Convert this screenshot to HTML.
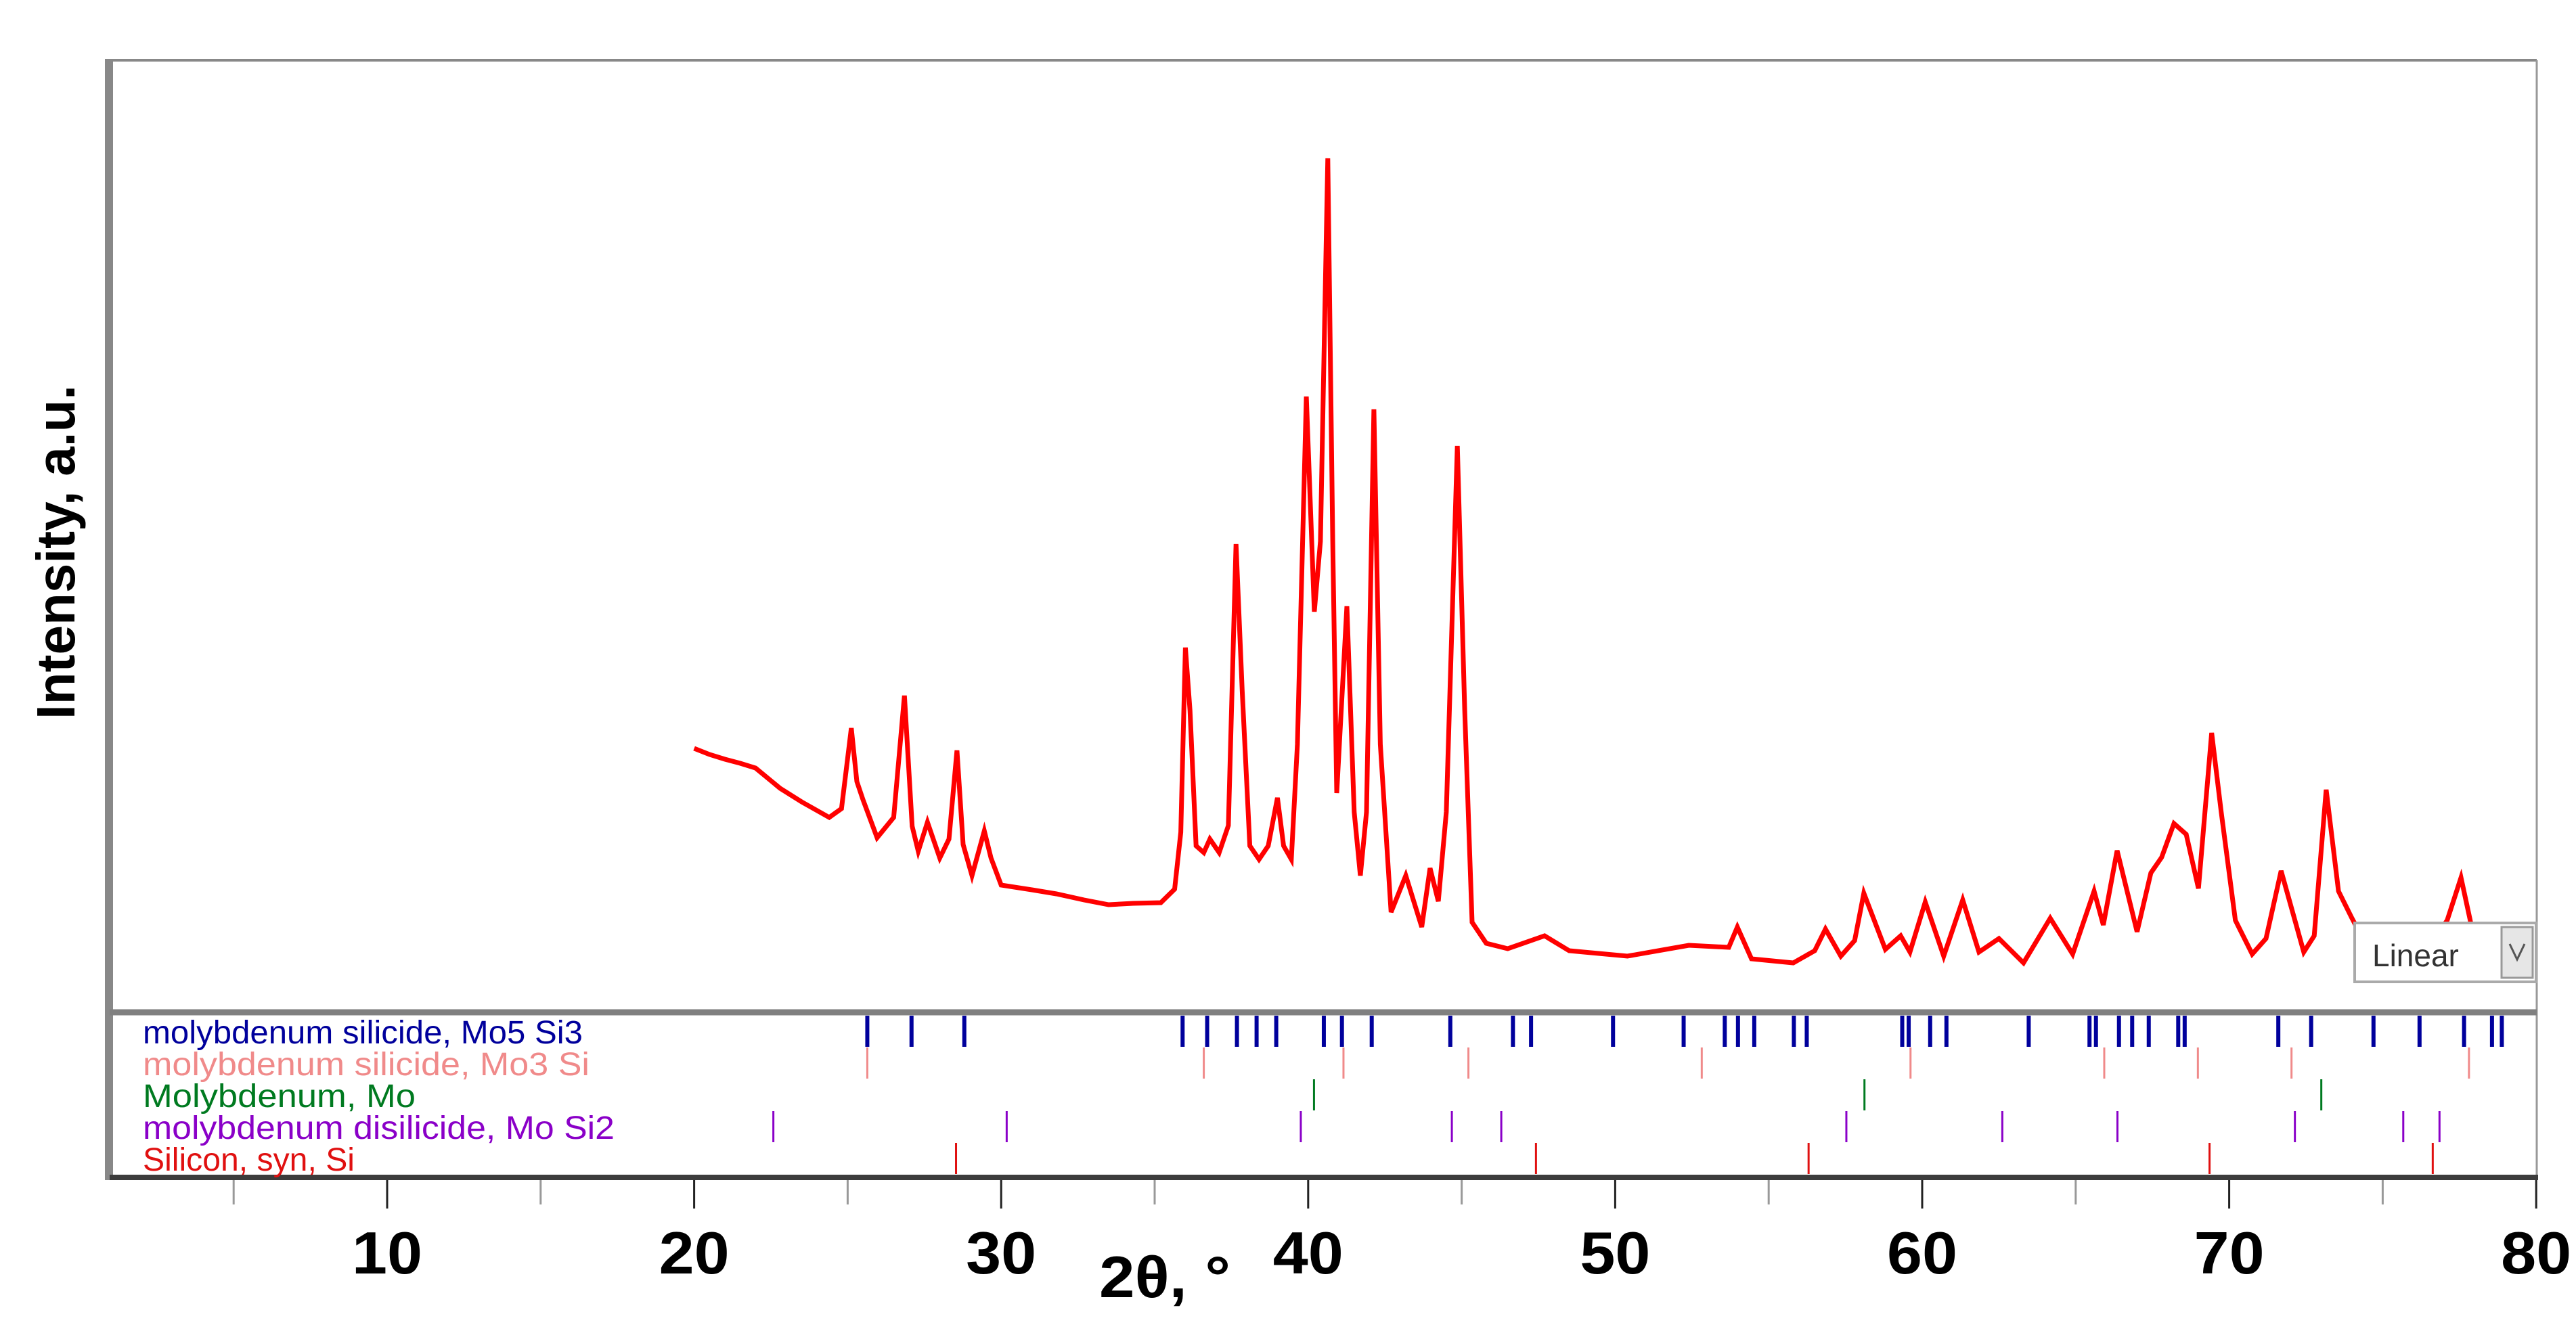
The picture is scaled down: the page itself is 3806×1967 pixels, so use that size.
<!DOCTYPE html>
<html><head><meta charset="utf-8"><style>
html,body{margin:0;padding:0;background:#fff;}
svg{display:block;}
text{font-family:"Liberation Sans",sans-serif;}
</style></head><body>
<svg id="chart" width="3806" height="1967" viewBox="0 0 3806 1967" xmlns="http://www.w3.org/2000/svg">
<rect x="0" y="0" width="3806" height="1967" fill="#fff"/>
<g id="frame">
<line x1="162" y1="89" x2="3748" y2="89" stroke="#888" stroke-width="4"/>
<line x1="3748" y1="89" x2="3748" y2="1740" stroke="#999" stroke-width="3"/>
<line x1="161" y1="87" x2="161" y2="1744" stroke="#888" stroke-width="12"/>
<line x1="162" y1="1496" x2="3748" y2="1496" stroke="#808080" stroke-width="9"/>
<line x1="162" y1="1740" x2="3750" y2="1740" stroke="#3c3c3c" stroke-width="8"/>
</g>
<g id="xaxis"></g>
<g id="phases"></g>
<g id="series"></g>
<text x="0" y="0" transform="translate(110,816) rotate(-90)" text-anchor="middle" font-size="80" font-weight="bold" textLength="494" lengthAdjust="spacingAndGlyphs" fill="#000">Intensity, a.u.</text>
<g>
<rect x="3479" y="1364" width="268" height="87" fill="#fff" stroke="#aaa" stroke-width="4"/>
<text x="3505" y="1428" font-size="46" fill="#333">Linear</text>
<rect x="3696" y="1370" width="46" height="75" fill="#e6e6e6" stroke="#999" stroke-width="3"/>
<polyline points="3708,1395 3719,1418 3730,1395" fill="none" stroke="#555" stroke-width="3"/>
</g>
</svg>
<script>
var twoTheta = [20.0,20.5,21.0,21.5,22.0,22.8,23.5,24.4,24.8,25.12,25.3,25.5,25.96,26.5,26.85,27.1,27.3,27.6,28.0,28.3,28.56,28.76,29.05,29.45,29.67,30.0,31.0,31.8,32.7,33.5,34.3,35.2,35.65,35.85,36.0,36.15,36.35,36.6,36.8,37.1,37.4,37.65,37.85,38.1,38.4,38.7,39.0,39.2,39.45,39.65,39.94,40.2,40.4,40.64,40.8,40.93,41.26,41.5,41.7,41.9,42.14,42.35,42.7,43.18,43.7,43.97,44.24,44.5,44.86,45.1,45.34,45.8,46.5,47.7,48.5,50.4,52.4,53.7,53.98,54.44,55.8,56.5,56.85,57.35,57.8,58.1,58.8,59.3,59.6,60.1,60.7,61.32,61.85,62.5,63.3,64.17,64.9,65.6,65.9,66.35,67.0,67.45,67.8,68.2,68.6,69.0,69.43,69.74,70.2,70.75,71.2,71.69,72.43,72.77,73.16,73.56,74.0,74.5,75.5,76.5,77.1,77.55,77.85,78.0];
var intensity = [387,378,371,365,358,328,308,285,298,417,338,311,255,285,465,272,235,278,225,253,384,245,199,265,225,185,178,172,163,156,158,159,179,263,536,443,243,233,253,233,273,689,473,243,223,243,314,243,223,393,907,589,693,1259,693,321,597,293,199,293,888,393,145,199,123,210,161,293,834,443,130,99,91,110,88,80,96,93,123,76,70,88,120,80,103,173,90,110,86,160,80,163,86,106,70,136,83,176,126,236,116,203,226,276,260,180,410,293,133,83,106,206,86,110,326,176,136,93,83,93,133,196,133,93];
var majorTicks = [10,20,30,40,50,60,70,80];
var tickLabels = ["10","20","30","40","50","60","70","80"];
var minorTicks = [5,15,25,35,45,55,65,75];
var phaseNames = ["molybdenum silicide, Mo5 Si3","molybdenum silicide, Mo3 Si","Molybdenum, Mo","molybdenum disilicide, Mo Si2","Silicon, syn, Si"];
var phaseLabelWidths = [650,660,403,697,313];
var phaseColors = ["#00009c","#f08a8a","#007a20","#8a00c8","#e01010"];
var mo5si3 = [25.64,27.08,28.80,35.91,36.71,37.68,38.32,38.96,40.51,41.10,42.07,44.63,46.67,47.26,49.93,52.23,53.57,54.0,54.53,55.82,56.24,59.35,59.56,60.26,60.79,63.47,65.45,65.66,66.41,66.84,67.38,68.34,68.55,71.6,72.67,74.7,76.2,77.65,78.56,78.88];
var mo3si = [25.64,36.6,41.15,45.22,52.82,59.62,65.93,68.98,72.03,77.81];
var moLines = [40.19,58.12,73.0];
var mosi2 = [22.58,30.18,39.76,44.68,46.29,57.53,62.61,66.36,72.14,75.67,76.85];
var siLines = [28.53,47.42,56.3,69.36,76.63];
var phaseLines = [mo5si3,mo3si,moLines,mosi2,siLines];

var NS = "http://www.w3.org/2000/svg";
function xScale(v){ return 572 + (v-10)*45.36; }
function yScale(v){ return 1493 - v; }
function makeLine(parent, x1, y1, x2, y2, color, w){
  var e = document.createElementNS(NS, "line");
  e.setAttribute("x1", x1); e.setAttribute("y1", y1);
  e.setAttribute("x2", x2); e.setAttribute("y2", y2);
  e.setAttribute("stroke", color); e.setAttribute("stroke-width", w);
  parent.appendChild(e);
  return e;
}
function makeText(parent, x, y, size, color, str){
  var e = document.createElementNS(NS, "text");
  e.setAttribute("x", x); e.setAttribute("y", y);
  e.setAttribute("font-size", size); e.setAttribute("fill", color);
  e.textContent = str;
  parent.appendChild(e);
  return e;
}

var xa = document.getElementById("xaxis");
var i, j;
for (i = 0; i < minorTicks.length; i++) {
  var ml = makeLine(xa, xScale(minorTicks[i]), 1744, xScale(minorTicks[i]), 1780, "#999", 3);
  
  
}
for (i = 0; i < majorTicks.length; i++) {
  var tl = makeLine(xa, xScale(majorTicks[i]), 1744, xScale(majorTicks[i]), 1786, "#222", 3);
  
  
  var tx = makeText(xa, xScale(majorTicks[i]), 1882, 88, "#000", tickLabels[i]);
  tx.setAttribute("text-anchor", "middle");
  tx.setAttribute("font-weight", "bold");
  tx.setAttribute("textLength", "104");
  tx.setAttribute("lengthAdjust", "spacingAndGlyphs");
  
  
}

var ph = document.getElementById("phases");
for (i = 0; i < phaseNames.length; i++) {
  var pt = makeText(ph, 211, 1542 + i*47, 48, phaseColors[i], phaseNames[i]);
  pt.setAttribute("textLength", phaseLabelWidths[i]);
  pt.setAttribute("lengthAdjust", "spacingAndGlyphs");
  
  
  var arr = phaseLines[i];
  for (j = 0; j < arr.length; j++) {
    var pm = makeLine(ph, xScale(arr[j]), 1501 + i*47, xScale(arr[j]), 1547 + i*47, phaseColors[i], i === 0 ? 6 : 3);
    
    
  }
}

var se = document.getElementById("series");
var pts = [];
for (i = 0; i < twoTheta.length; i++) {
  pts.push(xScale(twoTheta[i]).toFixed(1) + "," + yScale(intensity[i]).toFixed(1));
}
var pl = document.createElementNS(NS, "polyline");
pl.setAttribute("points", pts.join(" "));
pl.setAttribute("fill", "none");
pl.setAttribute("stroke", "#ff0000");
pl.setAttribute("stroke-width", "7");


se.appendChild(pl);

var svg = document.getElementById("chart");
var xt = makeText(svg, 1624, 1917, 86, "#000", "2θ, °");
xt.setAttribute("font-weight", "bold");
xt.setAttribute("textLength", "194");
xt.setAttribute("lengthAdjust", "spacingAndGlyphs");


</script>
</body></html>
